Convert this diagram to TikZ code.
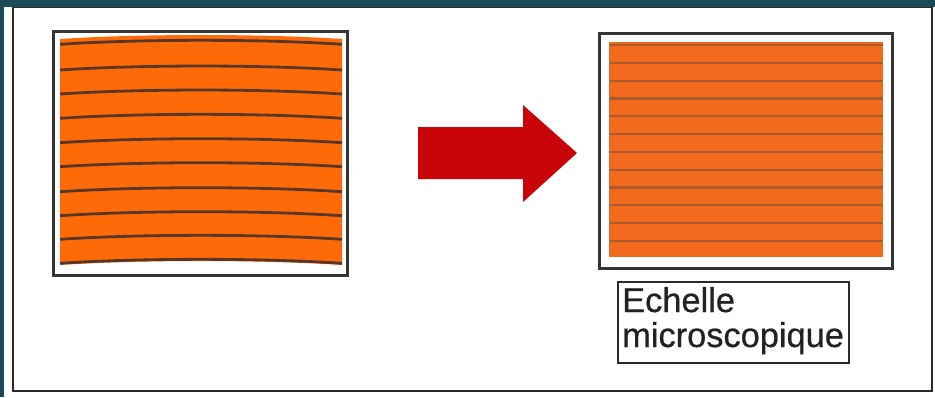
\documentclass[tikz,border=0pt]{standalone}
\usepackage{fontspec}
\setmainfont{Liberation Sans}
\newfontfamily\lblfont{Liberation Sans}[FakeBold=0.6]
\definecolor{teal0}{HTML}{1B4A5A}
\definecolor{frameC}{HTML}{2A2A2A}
\definecolor{boxC}{HTML}{353535}
\definecolor{orangeL}{HTML}{FF6A08}
\definecolor{orangeR}{HTML}{F26A1C}
\definecolor{lineL}{HTML}{583628}
\definecolor{lineR}{HTML}{A85A30}
\definecolor{arrowC}{HTML}{C80408}
\definecolor{textC}{HTML}{222222}
\tikzset{
  boxframe/.style={draw=boxC, line width=3pt},
  curvedline/.style={draw=lineL, line width=2.8pt},
  flatline/.style={draw=lineR, line width=2.2pt},
  labelbox/.style={draw=frameC, line width=1.8pt},
  labeltext/.style={anchor=base west, inner sep=0pt, text=textC, font=\lblfont\fontsize{34.4}{36}\selectfont}
}
\begin{document}
\begin{tikzpicture}[x=1pt,y=-1pt]
\useasboundingbox (0,0) rectangle (935,397);
% background and panel
\fill[white] (0,0) rectangle (935,397);
\fill[teal0] (0,0) rectangle (935,7);
\fill[teal0] (0,0) rectangle (4,397);
\draw[frameC, line width=1.6pt] (13,7.5) rectangle (932,391);

% left box (curved layers)
\fill[orangeL] (60,39) .. controls (140,33.7) and (262,33.7) .. (342,39)
  -- (342,265) .. controls (262,259.7) and (140,259.7) .. (60,265) -- cycle;
\foreach \yy in {44.3,70,94,118.3,142.7,166.7,191.7,215.7,239.3,263.3}{
  \draw[curvedline] (60,\yy) .. controls (140,\yy-5.3) and (262,\yy-5.3) .. (342,\yy);
}
\node[boxframe, minimum width=294pt, minimum height=244pt, inner sep=0pt] (left) at (200,153) {};

% arrow
\fill[arrowC] (418,127) -- (523,127) -- (523,105) -- (577,153) -- (523,202) -- (523,179) -- (418,179) -- cycle;

% right box (flat layers)
\fill[orangeR] (609,42) rectangle (883,257);
\foreach \k in {0,...,11}{
  \draw[flatline] (609,45+17.8*\k) -- (883,45+17.8*\k);
}
\node[boxframe, minimum width=293pt, minimum height=235pt, inner sep=0pt] (right) at (745.5,150.5) {};

% label
\node[labelbox, minimum width=231pt, minimum height=81pt, inner sep=0pt] (label) at (733.5,322.5) {};
\node[labeltext] (l1) at (622,312) {Echelle};
\node[labeltext] (l2) at (622,347) {microscopique};
\end{tikzpicture}
\end{document}
